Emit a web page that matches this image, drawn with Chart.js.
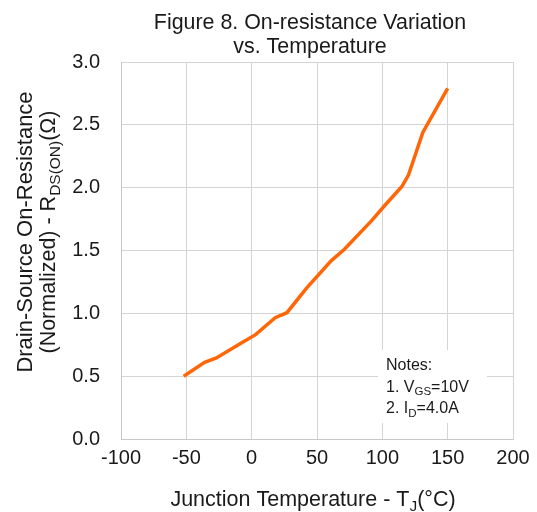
<!DOCTYPE html>
<html>
<head>
<meta charset="utf-8">
<script src="https://cdn.jsdelivr.net/npm/chart.js@4"></script>
<style>
  html, body { margin: 0; padding: 0; background: #fff; }
  #wrap { width: 537px; height: 512px; }
</style>
</head>
<body>
<div id="wrap"><canvas id="chart" width="537" height="512"></canvas></div>
<script>
// data
const temps = [-52, -36, -27, -6, 3, 18, 27, 42, 61, 71, 92, 102, 115, 120, 131, 150];
const rdsOn = [0.50, 0.61, 0.645, 0.775, 0.83, 0.965, 1.005, 1.20, 1.42, 1.51, 1.74, 1.86, 2.01, 2.10, 2.44, 2.79];
const xTicks = [-100, -50, 0, 50, 100, 150, 200];
const yTicks = [0, 0.5, 1.0, 1.5, 2.0, 2.5, 3.0];

const titleLines = ['Figure 8. On-resistance Variation', 'vs. Temperature'];
const noteLines = [
    [{ t: 'Notes:' }],
    [{ t: '1. V' }, { t: 'GS', sub: true }, { t: '=10V' }],
    [{ t: '2. I' }, { t: 'D', sub: true }, { t: '=4.0A' }]
];

const FONT = '"Liberation Sans", Arial, Helvetica, sans-serif';
const TEXT = '#1a1a1a';

// draw text made of normal and subscript pieces
function richWidth(ctx, parts, size) {
    let w = 0;
    parts.forEach(p => {
        ctx.font = (p.sub ? size * 0.72 : size) + 'px ' + FONT;
        w += ctx.measureText(p.t).width;
    });
    return w;
}
function drawRich(ctx, parts, x, y, size, align) {
    let w = richWidth(ctx, parts, size);
    let cx = align === 'center' ? x - w / 2 : x;
    ctx.textAlign = 'left';
    parts.forEach(p => {
        let s = p.sub ? size * 0.72 : size;
        ctx.font = s + 'px ' + FONT;
        ctx.fillText(p.t, cx, p.sub ? y + size * 0.22 : y);
        cx += ctx.measureText(p.t).width;
    });
}

const textPlugin = {
    id: 'textPlugin',
    afterDraw(chart) {
        const ctx = chart.ctx;
        ctx.save();
        ctx.fillStyle = TEXT;
        ctx.textBaseline = 'alphabetic';

        // title
        ctx.font = '21.4px ' + FONT;
        ctx.textAlign = 'center';
        ctx.fillText(titleLines[0], 310, 29);
        ctx.fillText(titleLines[1], 310, 53);

        // x axis title
        drawRich(ctx, [{ t: 'Junction Temperature - T' }, { t: 'J', sub: true }, { t: '(°C)' }], 313, 506, 21.5, 'center');

        // y axis title (rotated)
        ctx.save();
        ctx.translate(32, 232);
        ctx.rotate(-Math.PI / 2);
        drawRich(ctx, [{ t: 'Drain-Source On-Resistance' }], 0, 0, 22, 'center');
        ctx.restore();
        ctx.save();
        ctx.translate(55, 232);
        ctx.rotate(-Math.PI / 2);
        drawRich(ctx, [{ t: '(Normalized) - R' }, { t: 'DS(ON)', sub: true }, { t: '(Ω)' }], 0, 0, 21.5, 'center');
        ctx.restore();

        // notes box
        ctx.fillStyle = '#ffffff';
        ctx.fillRect(378, 350, 109, 73);
        ctx.fillStyle = TEXT;
        noteLines.forEach((line, i) => {
            drawRich(ctx, line, 386, 370 + i * 21.5, 16, 'left');
        });
        ctx.restore();
    }
};

new Chart(document.getElementById('chart'), {
    type: 'line',
    data: {
        datasets: [{
            data: temps.map((t, i) => ({ x: t, y: rdsOn[i] })),
            borderColor: '#ff6608',
            borderWidth: 3.5,
            pointRadius: 0,
            tension: 0,
            fill: false
        }]
    },
    options: {
        responsive: false,
        animation: false,
        layout: { padding: { left: 0, right: 24, top: 62, bottom: 0 } },
        plugins: { legend: { display: false }, tooltip: { enabled: false } },
        scales: {
            x: {
                type: 'linear',
                min: -100,
                max: 200,
                afterBuildTicks: axis => { axis.ticks = xTicks.map(v => ({ value: v })); },
                afterFit: axis => { axis.height = 73; },
                grid: { color: '#d4d4d4', lineWidth: 1, drawTicks: false },
                border: { color: '#c8c8c8', width: 1 },
                ticks: { padding: 7, color: TEXT, font: { family: FONT, size: 20 }, maxRotation: 0 }
            },
            y: {
                min: 0,
                max: 3,
                afterBuildTicks: axis => { axis.ticks = yTicks.map(v => ({ value: v })); },
                afterFit: axis => { axis.width = 121; },
                grid: { color: '#d4d4d4', lineWidth: 1, drawTicks: false },
                border: { color: '#c8c8c8', width: 1 },
                ticks: {
                    padding: 21,
                    color: TEXT,
                    font: { family: FONT, size: 20 },
                    callback: v => v.toFixed(1)
                }
            }
        }
    },
    plugins: [textPlugin]
});
</script>
</body>
</html>
